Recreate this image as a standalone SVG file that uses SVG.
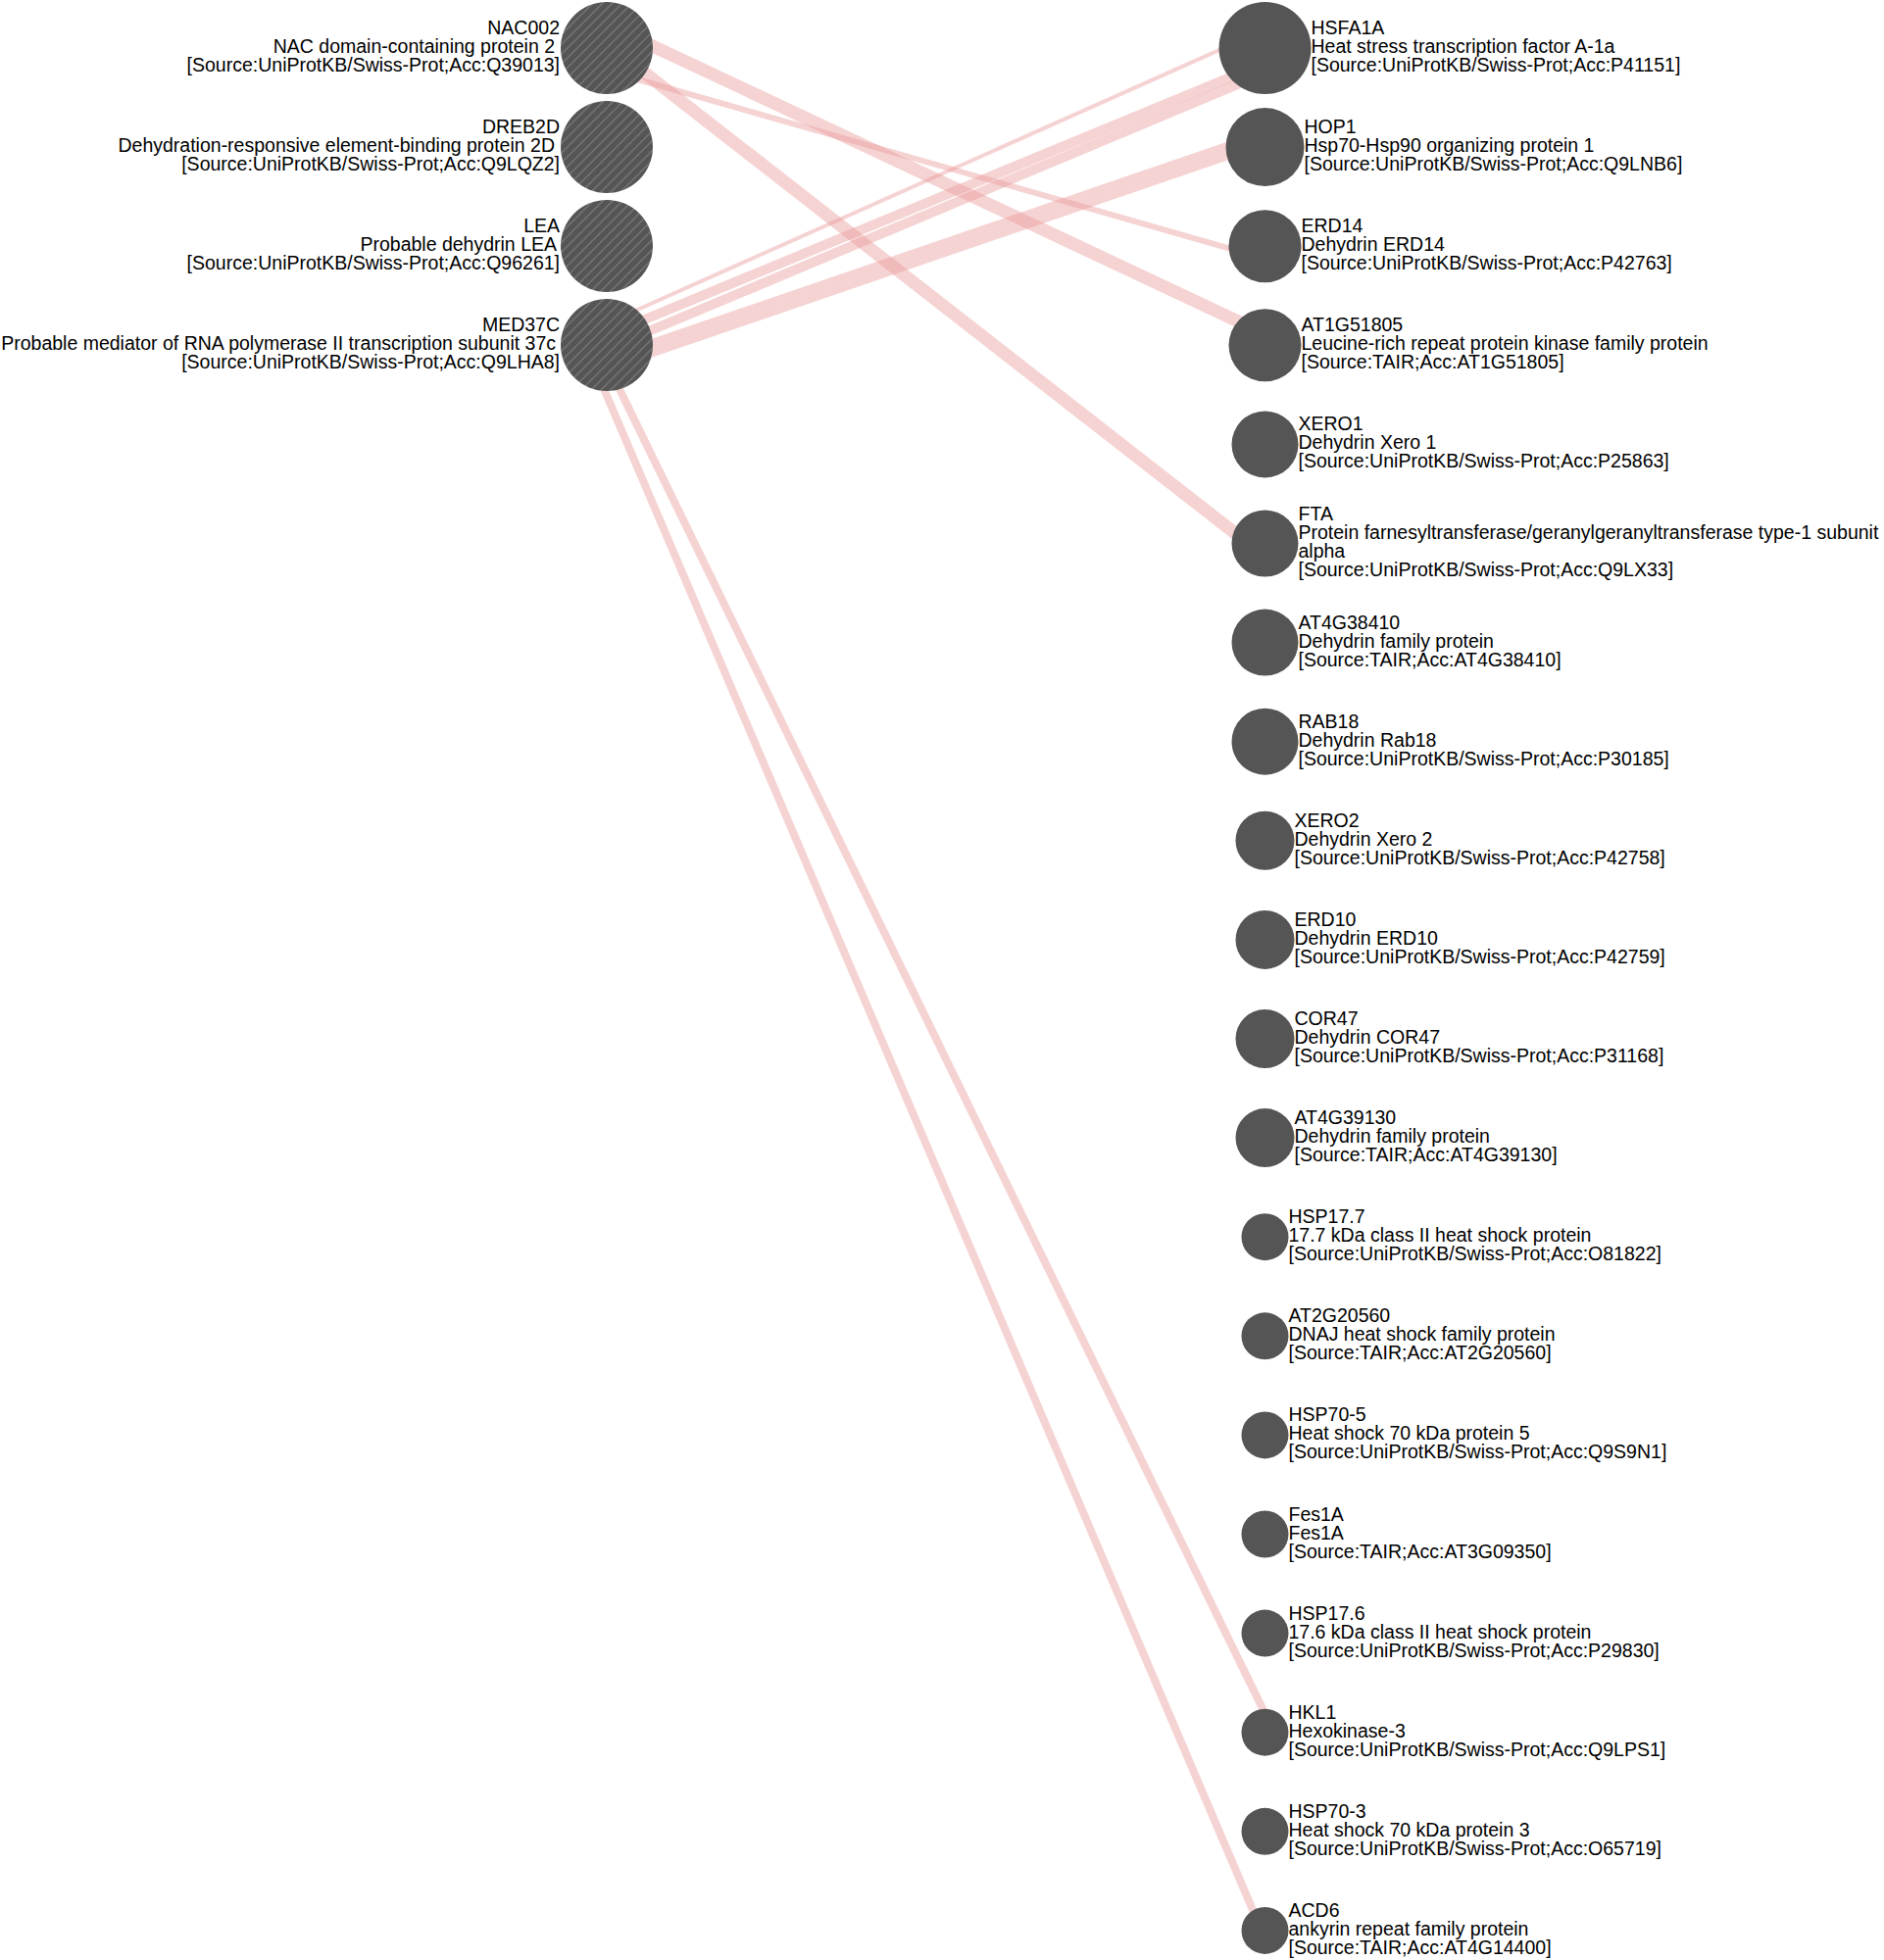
<svg xmlns="http://www.w3.org/2000/svg" width="1922" height="2000" viewBox="0 0 1922 2000">
<defs>
<pattern id="hatch" patternUnits="userSpaceOnUse" width="10" height="10">
<rect width="10" height="10" fill="#555555"/>
<path d="M0,10 L10,0 M-1,1 L1,-1 M9,11 L11,9" stroke="#747474" stroke-width="1.5"/>
</pattern>
<style>
.bg{fill:#ffffff}
.e{fill:none;stroke:#ea9999;stroke-opacity:0.43;stroke-linecap:butt}
.n{fill:#555555}
.h{fill:url(#hatch)}
text{font-family:"Liberation Sans",Arial,sans-serif;font-size:19.5px;fill:#000000}
.l{text-anchor:end}
</style>
</defs>
<rect class="bg" x="0" y="0" width="1922" height="2000"/>
<g id="edges">
<path class="e" stroke-width="13" d="M619,25 L1291,341"/>
<path class="e" stroke-width="6" d="M619,72 L1291,264"/>
<path class="e" stroke-width="13" d="M619,44 L1288,566"/>
<path class="e" stroke-width="4" d="M619,330 L1291,30"/>
<path class="e" stroke-width="10" d="M619,342 L1291,64"/>
<path class="e" stroke-width="10" d="M619,356 L1291,74"/>
<path class="e" stroke-width="18" d="M619,371 L1290,141"/>
<path class="e" stroke-width="8" d="M610,352 L1300,1768"/>
<path class="e" stroke-width="8" d="M597,352 L1287,1970"/>
</g>
<g id="n-NAC002" transform="translate(619,49)"><circle class="h" r="47"/><text class="l" x="-48" y="-14">NAC002</text><text class="l" x="-53" y="5">NAC domain-containing protein 2</text><text class="l" x="-48" y="24">[Source:UniProtKB/Swiss-Prot;Acc:Q39013]</text></g>
<g id="n-DREB2D" transform="translate(619,150)"><circle class="h" r="47"/><text class="l" x="-48" y="-14">DREB2D</text><text class="l" x="-53" y="5">Dehydration-responsive element-binding protein 2D</text><text class="l" x="-48" y="24">[Source:UniProtKB/Swiss-Prot;Acc:Q9LQZ2]</text></g>
<g id="n-LEA" transform="translate(619,251)"><circle class="h" r="47"/><text class="l" x="-48" y="-14">LEA</text><text class="l" x="-51" y="5">Probable dehydrin LEA</text><text class="l" x="-48" y="24">[Source:UniProtKB/Swiss-Prot;Acc:Q96261]</text></g>
<g id="n-MED37C" transform="translate(619,352)"><circle class="h" r="47"/><text class="l" x="-48" y="-14">MED37C</text><text class="l" x="-52" y="5">Probable mediator of RNA polymerase II transcription subunit 37c</text><text class="l" x="-48" y="24">[Source:UniProtKB/Swiss-Prot;Acc:Q9LHA8]</text></g>
<g id="n-HSFA1A" transform="translate(1290.5,49)"><circle class="n" r="47"/><text x="47" y="-14">HSFA1A</text><text x="47" y="5">Heat stress transcription factor A-1a</text><text x="47" y="24">[Source:UniProtKB/Swiss-Prot;Acc:P41151]</text></g>
<g id="n-HOP1" transform="translate(1290.5,150.1)"><circle class="n" r="40"/><text x="40" y="-14">HOP1</text><text x="40" y="5">Hsp70-Hsp90 organizing protein 1</text><text x="40" y="24">[Source:UniProtKB/Swiss-Prot;Acc:Q9LNB6]</text></g>
<g id="n-ERD14" transform="translate(1290.5,251.2)"><circle class="n" r="37"/><text x="37" y="-14">ERD14</text><text x="37" y="5">Dehydrin ERD14</text><text x="37" y="24">[Source:UniProtKB/Swiss-Prot;Acc:P42763]</text></g>
<g id="n-AT1G51805" transform="translate(1290.5,352.3)"><circle class="n" r="37"/><text x="37" y="-14">AT1G51805</text><text x="37" y="5">Leucine-rich repeat protein kinase family protein</text><text x="37" y="24">[Source:TAIR;Acc:AT1G51805]</text></g>
<g id="n-XERO1" transform="translate(1290.5,453.4)"><circle class="n" r="34"/><text x="34" y="-14">XERO1</text><text x="34" y="5">Dehydrin Xero 1</text><text x="34" y="24">[Source:UniProtKB/Swiss-Prot;Acc:P25863]</text></g>
<g id="n-FTA" transform="translate(1290.5,554.5)"><circle class="n" r="34"/><text x="34" y="-23.5">FTA</text><text x="34" y="-4.5">Protein farnesyltransferase/geranylgeranyltransferase type-1 subunit</text><text x="34" y="14.5">alpha</text><text x="34" y="33.5">[Source:UniProtKB/Swiss-Prot;Acc:Q9LX33]</text></g>
<g id="n-AT4G38410" transform="translate(1290.5,655.6)"><circle class="n" r="34"/><text x="34" y="-14">AT4G38410</text><text x="34" y="5">Dehydrin family protein</text><text x="34" y="24">[Source:TAIR;Acc:AT4G38410]</text></g>
<g id="n-RAB18" transform="translate(1290.5,756.7)"><circle class="n" r="34"/><text x="34" y="-14">RAB18</text><text x="34" y="5">Dehydrin Rab18</text><text x="34" y="24">[Source:UniProtKB/Swiss-Prot;Acc:P30185]</text></g>
<g id="n-XERO2" transform="translate(1290.5,857.8)"><circle class="n" r="30"/><text x="30" y="-14">XERO2</text><text x="30" y="5">Dehydrin Xero 2</text><text x="30" y="24">[Source:UniProtKB/Swiss-Prot;Acc:P42758]</text></g>
<g id="n-ERD10" transform="translate(1290.5,958.9)"><circle class="n" r="30"/><text x="30" y="-14">ERD10</text><text x="30" y="5">Dehydrin ERD10</text><text x="30" y="24">[Source:UniProtKB/Swiss-Prot;Acc:P42759]</text></g>
<g id="n-COR47" transform="translate(1290.5,1060)"><circle class="n" r="30"/><text x="30" y="-14">COR47</text><text x="30" y="5">Dehydrin COR47</text><text x="30" y="24">[Source:UniProtKB/Swiss-Prot;Acc:P31168]</text></g>
<g id="n-AT4G39130" transform="translate(1290.5,1161.1)"><circle class="n" r="30"/><text x="30" y="-14">AT4G39130</text><text x="30" y="5">Dehydrin family protein</text><text x="30" y="24">[Source:TAIR;Acc:AT4G39130]</text></g>
<g id="n-HSP17.7" transform="translate(1290.5,1262.2)"><circle class="n" r="24"/><text x="24" y="-14">HSP17.7</text><text x="24" y="5">17.7 kDa class II heat shock protein</text><text x="24" y="24">[Source:UniProtKB/Swiss-Prot;Acc:O81822]</text></g>
<g id="n-AT2G20560" transform="translate(1290.5,1363.3)"><circle class="n" r="24"/><text x="24" y="-14">AT2G20560</text><text x="24" y="5">DNAJ heat shock family protein</text><text x="24" y="24">[Source:TAIR;Acc:AT2G20560]</text></g>
<g id="n-HSP70-5" transform="translate(1290.5,1464.4)"><circle class="n" r="24"/><text x="24" y="-14">HSP70-5</text><text x="24" y="5">Heat shock 70 kDa protein 5</text><text x="24" y="24">[Source:UniProtKB/Swiss-Prot;Acc:Q9S9N1]</text></g>
<g id="n-Fes1A" transform="translate(1290.5,1565.5)"><circle class="n" r="24"/><text x="24" y="-14">Fes1A</text><text x="24" y="5">Fes1A</text><text x="24" y="24">[Source:TAIR;Acc:AT3G09350]</text></g>
<g id="n-HSP17.6" transform="translate(1290.5,1666.6)"><circle class="n" r="24"/><text x="24" y="-14">HSP17.6</text><text x="24" y="5">17.6 kDa class II heat shock protein</text><text x="24" y="24">[Source:UniProtKB/Swiss-Prot;Acc:P29830]</text></g>
<g id="n-HKL1" transform="translate(1290.5,1767.7)"><circle class="n" r="24"/><text x="24" y="-14">HKL1</text><text x="24" y="5">Hexokinase-3</text><text x="24" y="24">[Source:UniProtKB/Swiss-Prot;Acc:Q9LPS1]</text></g>
<g id="n-HSP70-3" transform="translate(1290.5,1868.8)"><circle class="n" r="24"/><text x="24" y="-14">HSP70-3</text><text x="24" y="5">Heat shock 70 kDa protein 3</text><text x="24" y="24">[Source:UniProtKB/Swiss-Prot;Acc:O65719]</text></g>
<g id="n-ACD6" transform="translate(1290.5,1969.9)"><circle class="n" r="24"/><text x="24" y="-14">ACD6</text><text x="24" y="5">ankyrin repeat family protein</text><text x="24" y="24">[Source:TAIR;Acc:AT4G14400]</text></g>
</svg>
